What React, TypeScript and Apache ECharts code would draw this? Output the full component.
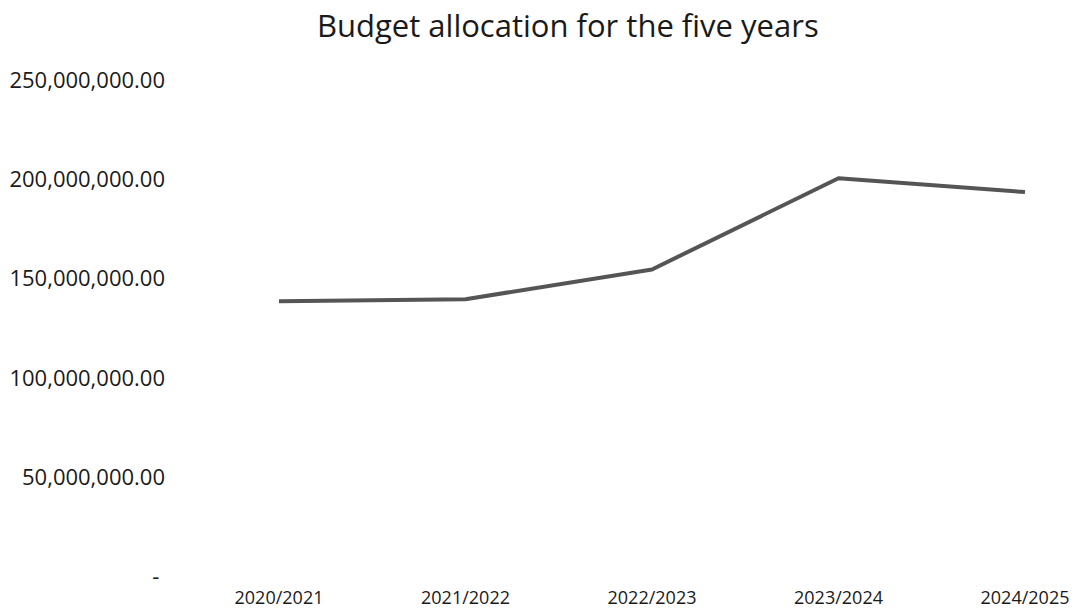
import React, { useEffect, useRef } from "react";
import * as echarts from "echarts";

const categories = ["2020/2021", "2021/2022", "2022/2023", "2023/2024", "2024/2025"];
const budget = [138000000, 139000000, 154000000, 200000000, 193000000];
const yMin = 0;
const yMax = 250000000;
const yInterval = 50000000;
const titleText = "Budget allocation for the five years";

const fmt = (v: number) =>
  v === 0
    ? "- "
    : v.toLocaleString("en-US", { minimumFractionDigits: 2, maximumFractionDigits: 2 });

export default function App() {
  const ref = useRef<HTMLDivElement>(null);
  useEffect(() => {
    if (!ref.current) return;
    const chart = echarts.init(ref.current, undefined, { renderer: "svg" });
    const font = "'Open Sans', 'Noto Sans', sans-serif";
    chart.setOption({
      animation: false,
      backgroundColor: "#ffffff",
      title: {
        text: titleText,
        left: 312,
        top: 4,
        textStyle: { fontFamily: font, fontSize: 31, fontWeight: "normal", color: "#1a1a1a" },
      },
      grid: { left: 279, right: 65, top: 79, bottom: 34, containLabel: false },
      xAxis: {
        type: "category",
        data: categories,
        boundaryGap: false,
        axisLine: { show: false },
        axisTick: { show: false },
        axisLabel: { margin: 13, fontFamily: font, fontSize: 18, color: "#1a1a1a" },
      },
      yAxis: {
        type: "value",
        min: yMin,
        max: yMax,
        interval: yInterval,
        splitLine: { show: false },
        axisLine: { show: false },
        axisTick: { show: false },
        axisLabel: {
          margin: 114,
          fontFamily: font,
          fontSize: 22,
          color: "#1a1a1a",
          formatter: (v: number) => fmt(v),
        },
      },
      series: [
        {
          type: "line",
          data: budget,
          symbol: "none",
          lineStyle: { color: "#555555", width: 4 },
        },
      ],
    });
    return () => chart.dispose();
  }, []);
  return <div ref={ref} style={{ width: 1090, height: 609, position: "absolute", left: 0, top: 0 }} />;
}
